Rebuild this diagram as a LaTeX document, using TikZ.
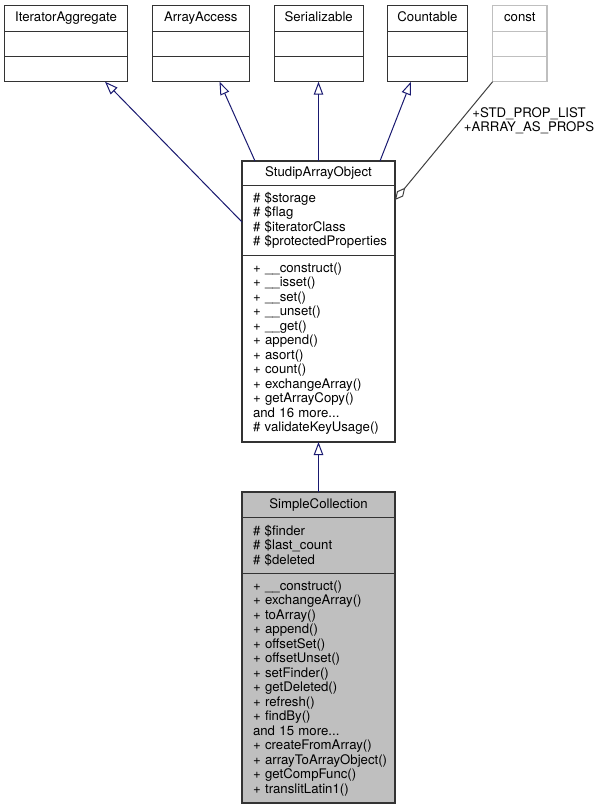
\documentclass[tikz,border=0pt]{standalone}
\usepackage{fontspec}
\setmainfont{TeX Gyre Heros}
\usepackage{xcolor}
\usepackage{tikz}
\usetikzlibrary{
    arrows.meta,
    positioning % For stacking the compartments
}
\definecolor{edgeblue}{HTML}{191970}
\definecolor{usegray}{HTML}{404040}
\definecolor{boxline}{HTML}{333333}
\definecolor{extgray}{HTML}{BFBFBF}
\tikzset{
    every node/.style={font=\fontsize{13.2}{14.5}\selectfont},
    cls/.style={draw=boxline, line width=1.1pt, inner sep=0pt, outer sep=0pt},
    classname/.style={cls, text height=10pt, text depth=3pt},
    emptypart/.style={cls, minimum height=25.2pt},
    classpart/.style={cls, text width=131pt, inner xsep=11pt, align=left,
        execute at begin node={\hyphenpenalty=10000\exhyphenpenalty=10000}},
    inherit/.style={draw=edgeblue, line width=1pt, -{Triangle[open, length=13pt, width=9.5pt]}},
    usage/.style={draw=usegray, line width=1pt, -{Diamond[open, length=16pt, width=8pt]}}
}

\begin{document}
\begin{tikzpicture}[x=1pt, y=-1pt]
        \useasboundingbox (0,0) rectangle (605,809);

        % interfaces on top
        \node[classname, minimum width=123.4pt, minimum height=25.8pt] (ia) at (66,18.4) {IteratorAggregate};
        \node[emptypart, minimum width=123.4pt, below=0pt of ia] (ia-a) {};
        \node[emptypart, minimum width=123.4pt, below=0pt of ia-a] (ia-m) {};

        \node[classname, minimum width=97pt, minimum height=25.8pt] (aa) at (200.8,18.4) {ArrayAccess};
        \node[emptypart, minimum width=97pt, below=0pt of aa] (aa-a) {};
        \node[emptypart, minimum width=97pt, below=0pt of aa-a] (aa-m) {};

        \node[classname, minimum width=89.3pt, minimum height=25.8pt] (ser) at (318.7,18.4) {Serializable};
        \node[emptypart, minimum width=89.3pt, below=0pt of ser] (ser-a) {};
        \node[emptypart, minimum width=89.3pt, below=0pt of ser-a] (ser-m) {};

        \node[classname, minimum width=80.4pt, minimum height=25.8pt] (cnt) at (427.5,18.4) {Countable};
        \node[emptypart, minimum width=80.4pt, below=0pt of cnt] (cnt-a) {};
        \node[emptypart, minimum width=80.4pt, below=0pt of cnt-a] (cnt-m) {};

        \node[classname, draw=extgray, minimum width=54.3pt, minimum height=25.8pt] (cst) at (519.8,18.4) {const};
        \node[emptypart, draw=extgray, minimum width=54.3pt, below=0pt of cst] (cst-a) {};
        \node[emptypart, draw=extgray, minimum width=54.3pt, below=0pt of cst-a] (cst-m) {};

        % StudipArrayObject
        \node[classname, minimum width=153pt, minimum height=24.5pt] (sao) at (318.5,173.25) {StudipArrayObject};
        \node[classpart, minimum height=70pt, below=0pt of sao] (sao-a)
            {\# \$storage\\\# \$flag\\\# \$iteratorClass\\\#~\$protectedProperties};
        \node[classpart, minimum height=186.5pt, below=0pt of sao-a] (sao-m)
            {+ \_\_construct()\\+ \_\_isset()\\+ \_\_set()\\+ \_\_unset()\\+ \_\_get()\\+ append()\\+ asort()\\+ count()\\+ exchangeArray()\\+ getArrayCopy()\\and 16 more...\\\# validateKeyUsage()};

        % SimpleCollection
        \node[classname, fill=extgray, minimum width=153pt, minimum height=25.5pt] (sc) at (318.5,504.75) {SimpleCollection};
        \node[classpart, fill=extgray, minimum height=56pt, below=0pt of sc] (sc-a)
            {\# \$finder\\\# \$last\_count\\\# \$deleted};
        \node[classpart, fill=extgray, minimum height=229.5pt, below=0pt of sc-a] (sc-m)
            {+ \_\_construct()\\+ exchangeArray()\\+ toArray()\\+ append()\\+ offsetSet()\\+ offsetUnset()\\+ setFinder()\\+ getDeleted()\\+ refresh()\\+ findBy()\\and 15 more...\\+ createFromArray()\\+~arrayToArrayObject()\\+ getCompFunc()\\+ translitLatin1()};

        % inheritance
        \draw[inherit] ([yshift=-1.5pt]sao-a.west) to ([xshift=39pt]ia-m.south);
        \draw[inherit] ([xshift=-63.5pt]sao.north) to ([xshift=18.7pt]aa-m.south);
        \draw[inherit] (sao.north) to (sao.north |- ser-m.south);
        \draw[inherit] ([xshift=61.5pt]sao.north) to ([xshift=-16.5pt]cnt-m.south);
        \draw[inherit] (sc.north) to (sao-m.south);

        % member usage
        \draw[usage] (cst-m.south west) to node[pos=0.33, anchor=west, align=center, inner sep=3pt,
            font=\fontsize{13.2}{13.5}\selectfont] (props) {+STD\_PROP\_LIST\\+ARRAY\_AS\_PROPS} ([yshift=-14.5pt]sao-a.north east);
    \end{tikzpicture}
\end{document}
